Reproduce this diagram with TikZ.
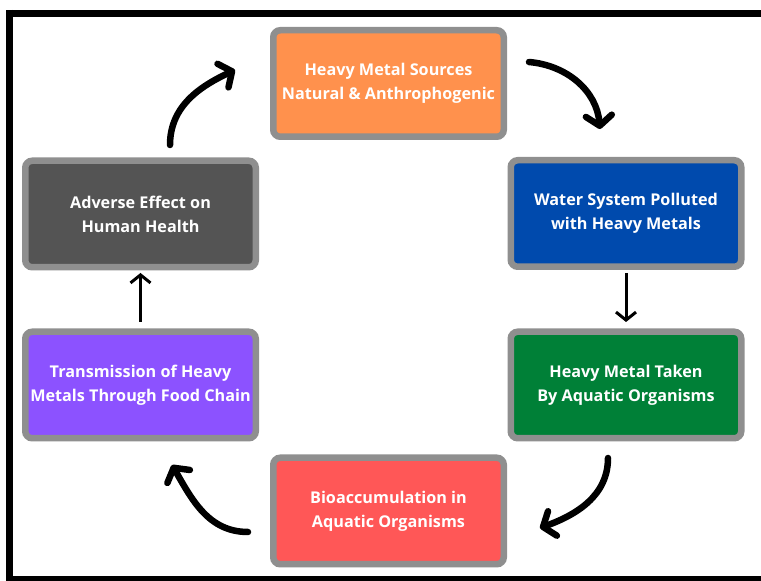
\documentclass[tikz,border=0pt]{standalone}
\usepackage{fontspec}
\setmainfont{Open Sans}
\usepackage{tikz}
\usetikzlibrary{arrows.meta}

\definecolor{rimgray}{HTML}{8F8F8F}
\definecolor{srcorange}{HTML}{FF914D}
\definecolor{waterblue}{HTML}{004AAD}
\definecolor{takengreen}{HTML}{008037}
\definecolor{biored}{HTML}{FF5757}
\definecolor{chainpurple}{HTML}{8C52FF}
\definecolor{healthgray}{HTML}{545454}

\begin{document}
\begin{tikzpicture}[x=1pt, y=1pt,
        stage/.style={draw=rimgray, line width=6.5pt, rounded corners=7pt,
            minimum width=230.5pt, minimum height=106.5pt, align=center,
            text=white, font=\bfseries\fontsize{16.2}{24}\selectfont},
        bigarrow/.style={line width=6.5pt, line cap=round,
            -{Straight Barb[length=10pt, width=26pt, line cap=round, line join=round]}},
        thinarrow/.style={line width=3pt,
            -{Straight Barb[length=8pt, width=20pt]}}]
        \useasboundingbox (0, 0) rectangle (761, 581);
        % frame (top, left and bottom only)
        \draw[line width=7pt] (6, 567.5) -- (761, 567.5);
        \draw[line width=7pt] (9.5, 571) -- (9.5, 0);
        \draw[line width=5pt] (6, 2) -- (761, 2);
        % stages of the cycle
        \node[stage, fill=srcorange]   (S) at (388.5, 497.5) {Heavy Metal Sources\\Natural \& Anthrophogenic};
        \node[stage, fill=waterblue]   (W) at (626.0, 367.5) {Water System Polluted\\with Heavy Metals};
        \node[stage, fill=takengreen]  (T) at (626.0, 196.0) {Heavy Metal Taken\\By Aquatic Organisms};
        \node[stage, fill=biored]      (B) at (388.5,  70.0) {Bioaccumulation in\\Aquatic Organisms};
        \node[stage, fill=chainpurple] (F) at (140.5, 196.0) {Transmission of Heavy\\Metals Through Food Chain};
        \node[stage, fill=healthgray]  (H) at (140.5, 367.0) {Adverse Effect on\\Human Health};
        % connectors
        \draw[bigarrow] ([xshift=29.5pt, yshift=12.5pt]H.north) to[out=90, in=205] ([xshift=-35pt, yshift=13.5pt]S.west);
        \draw[bigarrow] ([xshift=22pt, yshift=21.5pt]S.east) to[out=-5, in=95] ([xshift=-26pt, yshift=28pt]W.north);
        \draw[thinarrow, shorten <=3pt, shorten >=6.5pt] (W.south) -- (T.north);
        \draw[bigarrow] ([xshift=-18pt, yshift=-16.5pt]T.south) to[out=-90, in=20] ([xshift=33pt, yshift=-17pt]B.east);
        \draw[bigarrow] ([xshift=-22pt, yshift=-21pt]B.west) to[out=180, in=-60] ([xshift=31.5pt, yshift=-23.5pt]F.south);
        \draw[thinarrow, shorten <=6.5pt, shorten >=2.5pt] (F.north) -- (H.south);
    \end{tikzpicture}
\end{document}
